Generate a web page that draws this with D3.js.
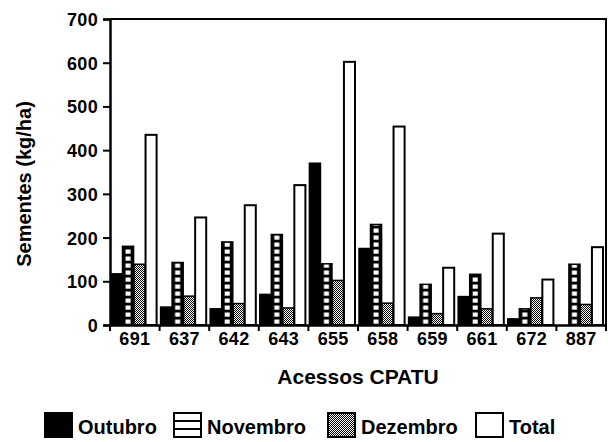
<!DOCTYPE html>
<head>
    <script src="https://cdn.jsdelivr.net/npm/d3@7"></script>
    <style>
        body { margin: 0; background: #fff; }
        text { font-family: "Liberation Sans", Arial, sans-serif; fill: #000; }
    </style>
</head>
<body>
<div id="chart"></div>
<script>
    // accessions and monthly seed yields (kg/ha)
    var acessos  = ["691", "637", "642", "643", "655", "658", "659", "661", "672", "887"];
    var series   = ["Outubro", "Novembro", "Dezembro", "Total"];
    var outubro  = [117, 41, 37, 70, 370, 175, 18, 65, 14, 0];
    var novembro = [180, 143, 190, 207, 140, 230, 93, 116, 37, 139];
    var dezembro = [139, 66, 49, 39, 102, 50, 26, 37, 62, 47];
    var total    = [435, 246, 274, 320, 602, 454, 131, 209, 104, 178];
    var yTicks   = [0, 100, 200, 300, 400, 500, 600, 700];

    var values = [outubro, novembro, dezembro, total];

    var W = 608, H = 442,
        marg_l = 110, marg_t = 19, plot_r = 606, plot_b = 325;

    var svg = d3.select("#chart").append("svg")
        .attr("width", W).attr("height", H);

    var x = d3.scaleBand().domain(acessos).range([marg_l, plot_r]);
    var xs = d3.scaleBand().domain(series).range([1, x.bandwidth() - 3]).paddingInner(0.04);
    var y = d3.scaleLinear().domain([0, 700]).range([plot_b, marg_t]);

    // fills
    var defs = svg.append("defs");
    var nov = defs.append("pattern").attr("id", "pNov")
        .attr("patternUnits", "userSpaceOnUse")
        .attr("x", marg_l).attr("y", plot_b)
        .attr("width", x.step()).attr("height", 7);
    nov.append("rect").attr("width", x.step()).attr("height", 7).attr("fill", "#000");
    nov.append("rect")
        .attr("x", xs("Novembro") + 3).attr("y", 1.5)
        .attr("width", xs.bandwidth() - 6).attr("height", 4.2)
        .attr("fill", "#fff");

    var dez = defs.append("pattern").attr("id", "pDez")
        .attr("patternUnits", "userSpaceOnUse")
        .attr("width", 2).attr("height", 2);
    dez.append("rect").attr("width", 2).attr("height", 2).attr("fill", "#fff");
    dez.append("rect").attr("width", 1).attr("height", 1).attr("fill", "#000");
    dez.append("rect").attr("x", 1).attr("y", 1).attr("width", 1).attr("height", 1).attr("fill", "#000");

    var fills = { "Outubro": "#000", "Novembro": "url(#pNov)", "Dezembro": "url(#pDez)", "Total": "#fff" };

    // bars
    series.forEach(function(s, si) {
        svg.append("g").selectAll("rect")
            .data(values[si])
            .enter().append("rect")
                .attr("x", function(d, i) { return x(acessos[i]) + xs(s); })
                .attr("y", function(d) { return y(d); })
                .attr("width", xs.bandwidth())
                .attr("height", function(d) { return plot_b - y(d); })
                .attr("fill", fills[s])
                .attr("stroke", "#000")
                .attr("stroke-width", function(d) { return d > 0 ? (s == "Total" ? 2 : 1.5) : 0; });
    });

    // frame
    svg.append("path")
        .attr("d", "M" + marg_l + "," + marg_t + "H" + plot_r + "V" + plot_b)
        .attr("fill", "none").attr("stroke", "#000").attr("stroke-width", 2);

    // y axis
    var ya = svg.append("g")
        .attr("transform", "translate(" + marg_l + ",0)")
        .call(d3.axisLeft(y).tickValues(yTicks).tickSize(7).tickPadding(5));
    ya.select(".domain").attr("stroke-width", 2.5);
    ya.selectAll(".tick line").attr("stroke-width", 2);
    ya.selectAll("text")
        .style("font-size", "18px").style("font-weight", "bold")
        .attr("dy", "0.36em").attr("letter-spacing", "0.3");

    // x axis
    var xa = svg.append("g")
        .attr("transform", "translate(0," + plot_b + ")")
        .call(d3.axisBottom(x).tickSize(0).tickPadding(7));
    xa.select(".domain").attr("stroke-width", 2.5);
    xa.selectAll("text")
        .style("font-size", "18px").style("font-weight", "bold")
        .attr("letter-spacing", "0.3");
    xa.selectAll(".sep")
        .data(acessos.concat([null]))
        .enter().append("line")
            .attr("class", "sep")
            .attr("x1", function(d) { return d ? x(d) : plot_r; })
            .attr("x2", function(d) { return d ? x(d) : plot_r; })
            .attr("y1", 0).attr("y2", 6)
            .attr("stroke", "#000").attr("stroke-width", 2);

    // axis titles
    svg.append("text")
        .attr("transform", "translate(31,184) rotate(-90)")
        .attr("text-anchor", "middle")
        .style("font-size", "20px").style("font-weight", "bold")
        .text("Sementes (kg/ha)");

    svg.append("text")
        .attr("x", 358).attr("y", 384)
        .attr("text-anchor", "middle")
        .style("font-size", "21px").style("font-weight", "bold")
        .text("Acessos CPATU");

    // legend
    var legX = [45, 174, 328, 476];
    var leg = svg.append("g").selectAll("g")
        .data(series)
        .enter().append("g")
            .attr("transform", function(d, i) { return "translate(" + legX[i] + ",413)"; });
    leg.append("rect")
        .attr("width", 27).attr("height", 24)
        .attr("fill", function(d) { return d == "Novembro" ? "#fff" : fills[d]; })
        .attr("stroke", "#000").attr("stroke-width", 2);
    leg.filter(function(d) { return d == "Novembro"; })
        .selectAll("line").data([8, 16]).enter().append("line")
            .attr("x1", 0).attr("x2", 27)
            .attr("y1", function(d) { return d; }).attr("y2", function(d) { return d; })
            .attr("stroke", "#000").attr("stroke-width", 2);
    leg.append("text")
        .attr("x", 33).attr("y", 21)
        .style("font-size", "20px").style("font-weight", "bold")
        .text(function(d) { return d; });
</script>
</body>
</html>
